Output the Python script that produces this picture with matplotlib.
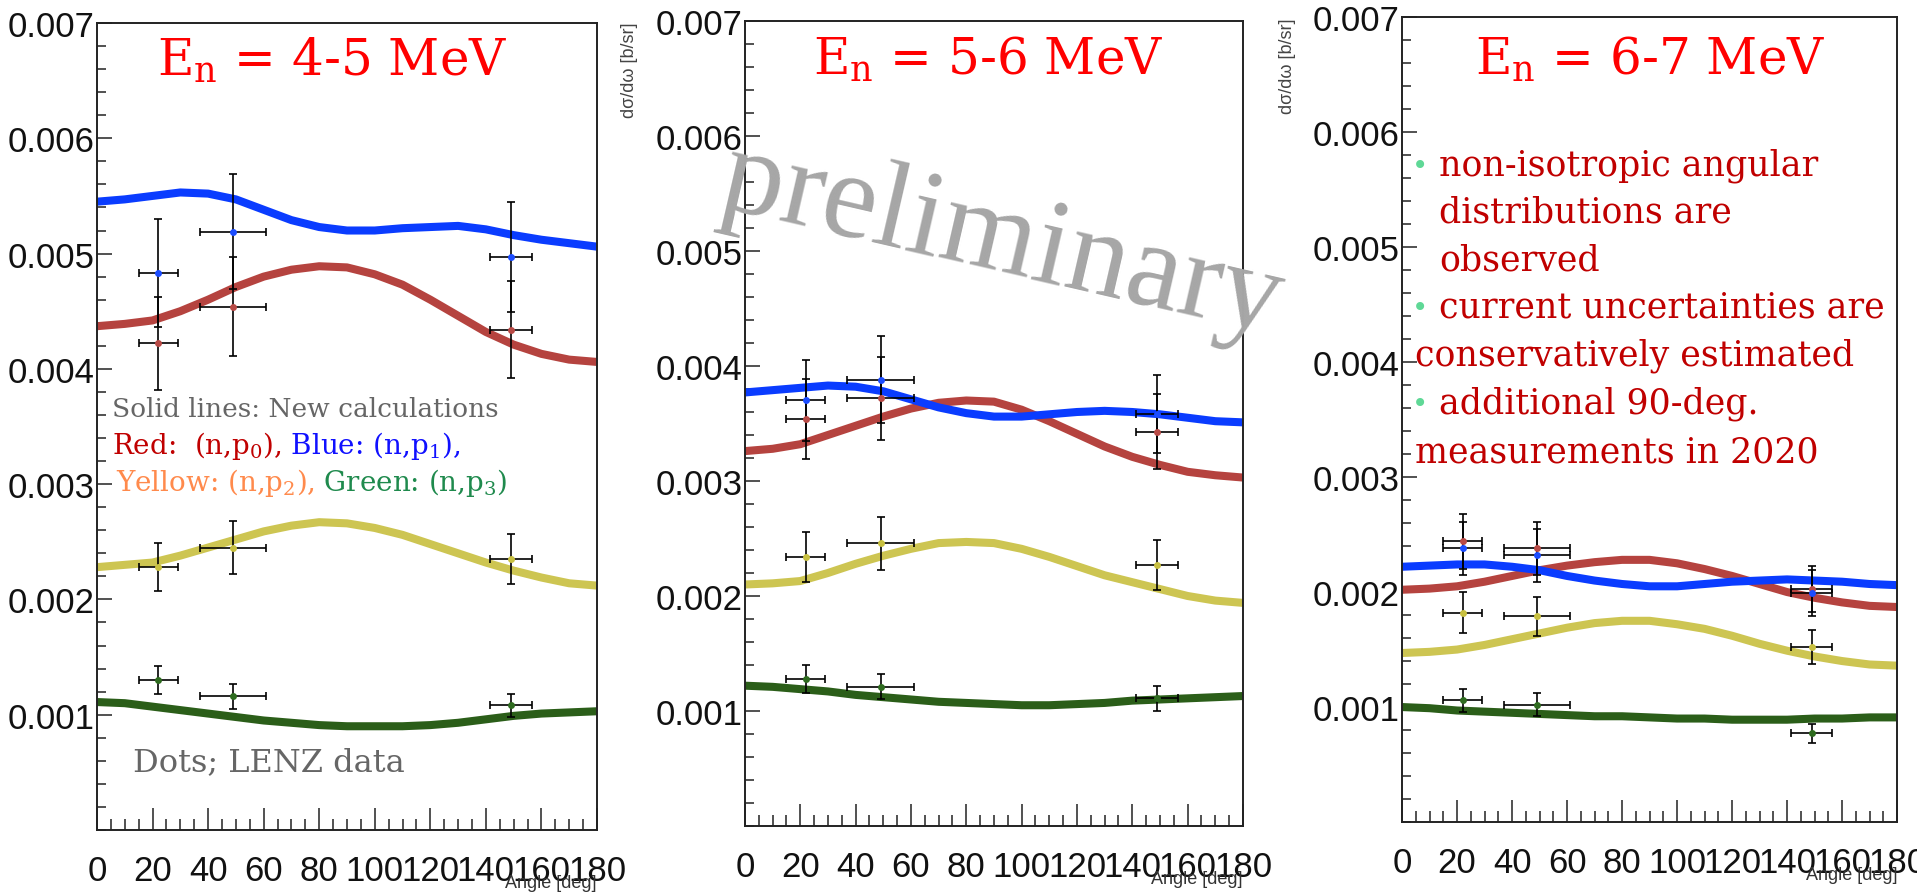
import matplotlib
matplotlib.use("Agg")
import matplotlib.pyplot as plt
from matplotlib.offsetbox import TextArea, HPacker, AnchoredOffsetbox
from matplotlib.ticker import MultipleLocator, FixedLocator

plt.rcParams["mathtext.fontset"] = "custom"
plt.rcParams["mathtext.rm"] = "DejaVu Serif"
plt.rcParams["mathtext.it"] = "DejaVu Serif:italic"

# ---- data ----------------------------------------------------------------
energy_bins = ["4-5", "5-6", "6-7"]
angle_grid = [0, 10, 20, 30, 40, 50, 60, 70, 80, 90, 100, 110, 120, 130, 140, 150, 160, 170, 180]

# new calculations, one list per panel
calc_p0 = [
    [0.00437, 0.00439, 0.00442, 0.0045, 0.0046, 0.00471, 0.0048, 0.00486, 0.00489, 0.00488,
     0.00482, 0.00473, 0.0046, 0.00446, 0.00432, 0.00421, 0.00413, 0.00408, 0.00406],
    [0.00326, 0.00328, 0.00332, 0.0034, 0.00348, 0.00356, 0.00363, 0.00368, 0.0037, 0.00369,
     0.00362, 0.00352, 0.00341, 0.0033, 0.00321, 0.00314, 0.00308, 0.00305, 0.00303],
    [0.00202, 0.00203, 0.00205, 0.00209, 0.00214, 0.00219, 0.00223, 0.00226, 0.00228, 0.00228,
     0.00225, 0.0022, 0.00214, 0.00207, 0.002, 0.00195, 0.00191, 0.00188, 0.00187],
]
calc_p1 = [
    [0.00545, 0.00547, 0.0055, 0.00553, 0.00552, 0.00547, 0.00538, 0.00529, 0.00523, 0.0052,
     0.0052, 0.00522, 0.00523, 0.00524, 0.00521, 0.00516, 0.00512, 0.00509, 0.00506],
    [0.00377, 0.00379, 0.00381, 0.00383, 0.00382, 0.00378, 0.00371, 0.00364, 0.00359, 0.00356,
     0.00356, 0.00358, 0.0036, 0.00361, 0.0036, 0.00358, 0.00355, 0.00352, 0.00351],
    [0.00222, 0.00223, 0.00224, 0.00224, 0.00222, 0.00219, 0.00214, 0.0021, 0.00207, 0.00205,
     0.00205, 0.00207, 0.00209, 0.0021, 0.00211, 0.0021, 0.00209, 0.00207, 0.00206],
]
calc_p2 = [
    [0.00228, 0.0023, 0.00232, 0.00238, 0.00245, 0.00252, 0.00259, 0.00264, 0.00267, 0.00266,
     0.00262, 0.00256, 0.00248, 0.0024, 0.00232, 0.00225, 0.00219, 0.00214, 0.00212],
    [0.0021, 0.00211, 0.00213, 0.0022, 0.00228, 0.00235, 0.00241, 0.00246, 0.00247, 0.00246,
     0.00241, 0.00234, 0.00226, 0.00218, 0.00212, 0.00206, 0.002, 0.00196, 0.00194],
    [0.00147, 0.00148, 0.0015, 0.00154, 0.00159, 0.00164, 0.00169, 0.00173, 0.00175, 0.00175,
     0.00172, 0.00168, 0.00162, 0.00155, 0.00149, 0.00144, 0.0014, 0.00137, 0.00136],
]
calc_p3 = [
    [0.00111, 0.0011, 0.00107, 0.00104, 0.00101, 0.00098, 0.00095, 0.00093, 0.00091, 0.0009,
     0.0009, 0.0009, 0.00091, 0.00093, 0.00096, 0.00099, 0.00101, 0.00102, 0.00103],
    [0.00122, 0.00121, 0.00119, 0.00117, 0.00114, 0.00112, 0.0011, 0.00108, 0.00107, 0.00106,
     0.00105, 0.00105, 0.00106, 0.00107, 0.00109, 0.0011, 0.00111, 0.00112, 0.00113],
    [0.001, 0.00099, 0.00097, 0.00096, 0.00095, 0.00094, 0.00093, 0.00092, 0.00092, 0.00091,
     0.0009, 0.0009, 0.00089, 0.00089, 0.00089, 0.0009, 0.0009, 0.00091, 0.00091],
]

# LENZ data points
data_angle = [22, 49, 149]
data_angle_err = [7, 12, 7.5]
lenz_p0 = [[0.00422, 0.00454, 0.00434], [0.00354, 0.00372, 0.00343], [0.00244, 0.00238, 0.00203]]
lenz_p0_err = [[0.0004, 0.00043, 0.00042], [0.00035, 0.00036, 0.00033], [0.00024, 0.00023, 0.0002]]
lenz_p1 = [[0.00483, 0.00519, 0.00497], [0.0037, 0.00388, 0.00358], [0.00238, 0.00232, 0.00199]]
lenz_p1_err = [[0.00047, 0.0005, 0.00048], [0.00035, 0.00038, 0.00034], [0.00023, 0.00023, 0.0002]]
lenz_p2 = [[0.00228, 0.00245, 0.00235], [0.00234, 0.00246, 0.00227], [0.00182, 0.00179, 0.00152]]
lenz_p2_err = [[0.00021, 0.00023, 0.00022], [0.00022, 0.00023, 0.00022], [0.00018, 0.00017, 0.00015]]
lenz_p3 = [[0.0013, 0.00116, 0.00108], [0.00128, 0.00121, 0.00111], [0.00106, 0.00102, 0.00077]]
lenz_p3_err = [[0.00012, 0.00011, 0.0001], [0.00012, 0.00011, 0.00011], [0.0001, 0.0001, 0.00008]]

y_ticks = [0.001, 0.002, 0.003, 0.004, 0.005, 0.006, 0.007]
y_tick_labels = ["0.001", "0.002", "0.003", "0.004", "0.005", "0.006", "0.007"]
x_ticks = [0, 20, 40, 60, 80, 100, 120, 140, 160, 180]

bullet_lines = [
    ("non-isotropic angular", True, False),
    ("distributions are", False, False),
    ("observed", False, False),
    ("current uncertainties are", True, False),
    ("conservatively estimated", False, True),
    ("additional 90-deg.", True, False),
    ("measurements in 2020", False, True),
]

# ---- styling ---------------------------------------------------------------
curve_colors = ["#b5433f", "#0a3cff", "#cdc552", "#2b5e19"]
dot_colors = ["#b84a46", "#1b4cff", "#c8c040", "#2e6b1f"]
tick_font = "Liberation Sans"
slab_font = "DejaVu Serif"

panel_rects = [
    [0.0506, 0.0715, 0.2608, 0.9017],
    [0.3886, 0.0760, 0.2598, 0.8994],
    [0.7314, 0.0804, 0.2582, 0.8994],
]
title_pos = [(0.47, 0.937), (0.488, 0.935), (0.501, 0.930)]


def colored_line(ax, x, y, parts, size):
    boxes = [TextArea(s, textprops=dict(color=c, fontsize=size, family=slab_font)) for s, c in parts]
    row = HPacker(children=boxes, align="baseline", pad=0, sep=0)
    anchored = AnchoredOffsetbox(loc="lower left", child=row, pad=0, borderpad=0, frameon=False,
                                 bbox_to_anchor=(x, y), bbox_transform=ax.transAxes)
    ax.add_artist(anchored)


fig = plt.figure(figsize=(19.17, 8.95), dpi=100)
fig.patch.set_facecolor("white")

curves = [calc_p0, calc_p1, calc_p2, calc_p3]
points = [(lenz_p0, lenz_p0_err), (lenz_p1, lenz_p1_err), (lenz_p2, lenz_p2_err), (lenz_p3, lenz_p3_err)]

axes = []
for i, rect in enumerate(panel_rects):
    ax = fig.add_axes(rect)
    axes.append(ax)
    for curve, color in zip(curves, curve_colors):
        ax.plot(angle_grid, curve[i], color=color, lw=5.8, solid_joinstyle="round",
                solid_capstyle="butt", zorder=2)
    for (vals, errs), color in zip(points, dot_colors):
        ax.errorbar(data_angle, vals[i], xerr=data_angle_err, yerr=errs[i], fmt="none",
                    ecolor="black", elinewidth=1.2, capsize=3, capthick=1.2, zorder=3)
        ax.plot(data_angle, vals[i], "o", color=color, ms=5, mec="none", zorder=4)

    ax.set_xlim(0, 180)
    ax.set_ylim(0, 0.007)
    ax.xaxis.set_major_locator(FixedLocator(x_ticks))
    ax.xaxis.set_minor_locator(MultipleLocator(5))
    ax.yaxis.set_major_locator(FixedLocator(y_ticks))
    ax.yaxis.set_minor_locator(MultipleLocator(0.0002))
    ax.set_yticklabels(y_tick_labels)
    ax.tick_params(which="both", direction="in", top=False, right=False, width=1.1, colors="#222")
    ax.tick_params(axis="x", which="major", length=16, pad=17)
    ax.tick_params(axis="x", which="minor", length=8)
    ax.tick_params(axis="y", which="major", length=11, pad=2)
    ax.tick_params(axis="y", which="minor", length=6.5)
    for lab in ax.get_xticklabels() + ax.get_yticklabels():
        lab.set_fontfamily(tick_font)
        lab.set_fontsize(25)
        lab.set_color("#111")
    for sp in ax.spines.values():
        sp.set_linewidth(1.4)
        sp.set_color("#222")

    ax.text(1.0, -0.071, "Angle [deg]", transform=ax.transAxes, ha="right", va="baseline",
            fontsize=13, color="#333", family=tick_font)
    if i > 0:
        ax.text(-0.232, 1.0, "d\u03c3/d\u03c9 [b/sr]", transform=ax.transAxes, rotation=90,
                ha="center", va="top", fontsize=13, color="#444", family=tick_font)

    tx, ty = title_pos[i]
    ax.text(tx, ty, r"E$_{\mathrm{n}}$ = " + energy_bins[i] + " MeV", transform=ax.transAxes,
            ha="center", va="baseline", color="#ff0000", fontsize=36, family=slab_font)

# annotations, left panel
ax = axes[0]
ax.text(0.03, 0.513, "Solid lines: New calculations", transform=ax.transAxes, ha="left",
        va="baseline", fontsize=19, color="#666666", family=slab_font)
colored_line(ax, 0.03, 0.457, [("Red:  (n,p$_0$),", "#c00000"), (" Blue: (n,p$_1$),", "#1010ff")], 20)
colored_line(ax, 0.038, 0.411, [("Yellow: (n,p$_2$),", "#ff8a4c"), (" Green: (n,p$_3$)", "#1f8a4d")], 20)
ax.text(0.072, 0.0743, "Dots; LENZ data", transform=ax.transAxes, ha="left", va="baseline",
        fontsize=23, color="#666666", family=slab_font)

# bullet notes, right panel
ax = axes[2]
baselines = [0.805, 0.7466, 0.687, 0.6286, 0.569, 0.5093, 0.4484]
for (line, bullet, flush), yb in zip(bullet_lines, baselines):
    x0 = 0.0263 if flush else 0.0747
    ax.text(x0, yb, line, transform=ax.transAxes, ha="left", va="baseline",
            fontsize=25, color="#c00000", family=slab_font)
    if bullet:
        ax.text(0.036, yb, "\u2022", transform=ax.transAxes, ha="center", va="baseline",
                fontsize=20, color="#5fd896", family=slab_font)

# watermark
fig.text(995 / 1917, 1 - 271 / 895, "preliminary", ha="center", va="baseline", rotation=-13,
         rotation_mode="anchor", fontsize=88, color="#a6a6a6", family="Liberation Serif", zorder=10)

fig.savefig("out.png", dpi=100)
